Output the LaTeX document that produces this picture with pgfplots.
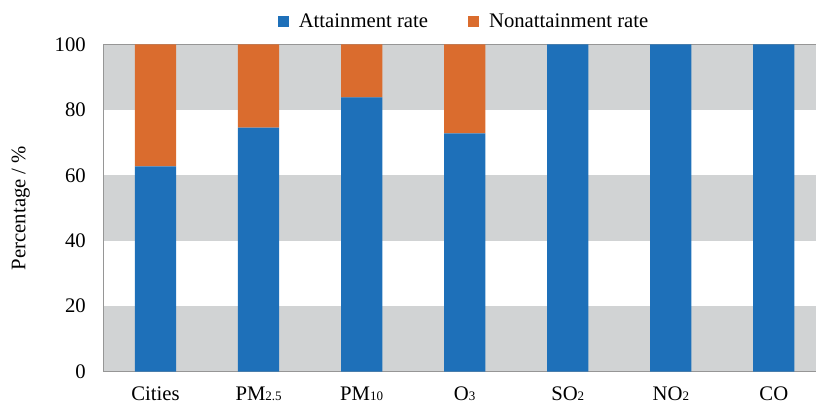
\documentclass[border=0pt]{standalone}
\usepackage{pgfplots}
\pgfplotsset{compat=1.18}
\usepackage{fontspec}
\setmainfont{Liberation Serif}
\definecolor{cblue}{RGB}{30,112,185}
\definecolor{corange}{RGB}{218,108,46}
\definecolor{band}{RGB}{209,211,212}
\definecolor{axgray}{RGB}{150,150,150}
\newcommand{\sub}[1]{\raisebox{-0.5bp}{\fontsize{13bp}{13bp}\selectfont #1}}
\pgfplotsset{
  common/.style={
    scale only axis,
    width=712.5bp, height=327bp,
    xmin=-0.505, xmax=6.409,
    ymin=0, ymax=100,
  }
}
\begin{document}
\fontsize{20.7bp}{24bp}\selectfont
\begin{tikzpicture}
\begin{axis}[common, hide axis]
\fill[band] (axis cs:-0.505,0) rectangle (axis cs:6.409,20);
\fill[band] (axis cs:-0.505,40) rectangle (axis cs:6.409,60);
\fill[band] (axis cs:-0.505,80) rectangle (axis cs:6.409,100);
\end{axis}
\begin{axis}[
  common,
  name=ax,
  ybar stacked,
  bar width=0.4,
  xtick={0,1,2,3,4,5,6},
  xticklabels={Cities, PM\sub{2.5}, PM\sub{10}, O\sub{3}, SO\sub{2}, NO\sub{2}, CO},
  ytick={0,20,40,60,80,100},
  major tick length=0pt,
  axis x line*=box,
  axis y line*=left,
  axis line style={draw=axgray, line width=1.3bp, -},
  /pgf/number format/assume math mode=true,
  tick label style={font=\fontsize{20.7bp}{24bp}\selectfont},
  yticklabel style={anchor=east, inner sep=0pt, xshift=-17.5bp},
  xticklabel style={anchor=base, inner sep=0pt, yshift=-28.5bp},
  ylabel={Percentage / \%},
  ylabel style={at={(axis description cs:-0.103,0.5)}, anchor=south, inner sep=0pt, font=\fontsize{20.7bp}{24bp}\selectfont},
  legend columns=2,
  legend style={draw=none, fill=none, at={(0.506,1)}, anchor=center, yshift=22.5bp,
    font=\fontsize{20.7bp}{24bp}\selectfont,
    /tikz/every even column/.append style={column sep=38bp}},
  legend image code/.code={\fill[#1] (0bp,-5.5bp) rectangle (11bp,5.5bp); \path (19bp,0bp);},
]
\addplot[fill=cblue, draw=none] coordinates {(0,62.7) (1,74.6) (2,83.8) (3,72.8) (4,100) (5,100) (6,100)};
\addplot[fill=corange, draw=none] coordinates {(0,37.3) (1,25.4) (2,16.2) (3,27.2) (4,0) (5,0) (6,0)};
\legend{Attainment rate, Nonattainment rate}
\end{axis}
\pgfresetboundingbox
\path ([xshift=-103.5bp,yshift=-32.5bp]ax.south west) rectangle ([yshift=44.5bp]ax.north east);
\end{tikzpicture}
\end{document}
